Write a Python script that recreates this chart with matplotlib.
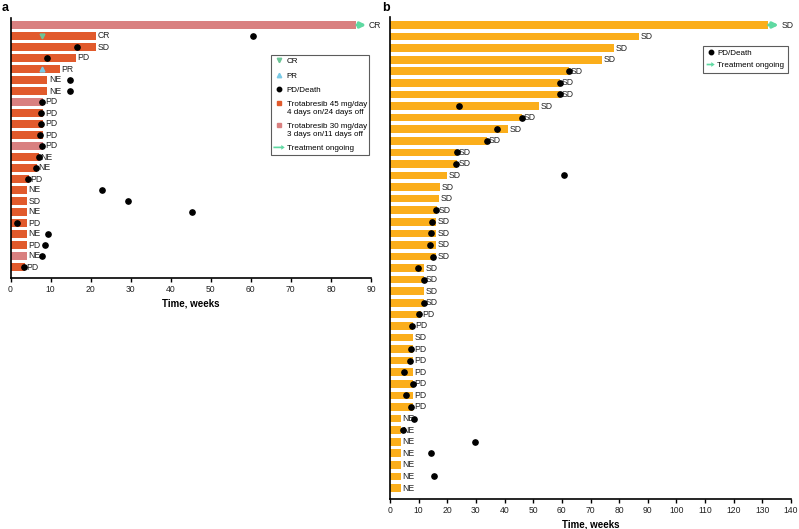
import numpy as np
import matplotlib
matplotlib.use("Agg")
import matplotlib.pyplot as plt
import matplotlib.patches as mpatches
from matplotlib.lines import Line2D
from matplotlib.legend_handler import HandlerPatch, HandlerLine2D
from matplotlib.transforms import Affine2D

plt.rcParams['font.family'] = ['Liberation Sans', 'DejaVu Sans']

nan = np.nan

#---------------------------- panel a data ----------------------------
a_weeks = [86.2, 21.4, 21.4, 16.3, 12.3, 9.2, 9.2, 8.2, 8.2, 8.2, 8.2, 8.2,
           7.1, 6.5, 4.6, 4.1, 4.1, 4.1, 4.1, 4.1, 4.1, 4.1, 3.5]
a_dose = [30, 45, 45, 45, 45, 45, 45, 30, 45, 45, 45, 30,
          45, 45, 45, 45, 45, 45, 45, 45, 45, 30, 45]
a_resp = ['CR', 'CR', 'SD', 'PD', 'PR', 'NE', 'NE', 'PD', 'PD', 'PD', 'PD', 'PD',
          'NE', 'NE', 'PD', 'NE', 'SD', 'NE', 'PD', 'NE', 'PD', 'NE', 'PD']
a_death = [nan, 60.5, 16.5, 9.0, nan, 14.8, 14.8, 7.8, 7.5, 7.5, 7.4, 7.8,
           7.0, 6.3, 4.4, 22.8, 29.4, 45.2, 1.7, 9.3, 8.6, 7.8, 3.3]
a_cr_time = [nan, 7.9] + [nan] * 21
a_pr_time = [nan] * 4 + [7.8] + [nan] * 18
a_ongoing = [True] + [False] * 22

#---------------------------- panel b data ----------------------------
b_weeks = [131.9, 87.0, 78.3, 73.9, 62.5, 59.3, 59.3, 52.0, 46.0, 41.1, 34.0,
           23.5, 23.4, 19.8, 17.5, 17.1, 16.3, 16.2, 16.0, 16.0, 16.0, 12.0,
           12.0, 12.0, 12.0, 10.7, 8.1, 7.9, 7.9, 7.9, 7.9, 7.9, 7.9, 7.9,
           3.85, 3.85, 3.85, 3.85, 3.85, 3.85, 3.85]
b_resp = ['SD'] * 25 + ['PD', 'PD', 'SD'] + ['PD'] * 6 + ['NE'] * 7
b_death = [nan, nan, nan, nan, 62.5, 59.3, 59.3, 24.1, 46.0, 37.2, 33.9, 23.4,
           23.2, 60.8, nan, nan, 16.1, 14.5, 14.2, 14.0, 14.9, 9.9, 11.8, nan,
           11.8, 10.0, 7.8, nan, 7.2, 7.0, 5.0, 7.9, 5.5, 7.3, 8.3, 4.5, 29.8,
           14.2, nan, 15.5, nan]
b_ongoing = [True] + [False] * 40

#---------------------------- colours ----------------------------
c45 = '#E15A2C'
c30 = '#D98080'
c_b = '#FBAE1B'
c_arrow = '#5FD9A2'
c_cr = '#6CC496'
c_pr = '#79C9E6'
txt = '#222222'


class ArrowHandler(HandlerPatch):
    def create_artists(self, legend, orig_handle, xdescent, ydescent, width, height, fontsize, trans):
        arr = mpatches.FancyArrow(-xdescent, height / 2 - ydescent, width, 0, width=height * 0.3,
                                  head_width=height * 0.85, head_length=height * 0.6,
                                  length_includes_head=True, color=orig_handle.get_facecolor(), lw=0)
        arr.set_transform(trans)
        return [arr]


# puts the marker next to the first line of a two line label
class TopHandler(HandlerLine2D):
    def create_artists(self, legend, orig_handle, xdescent, ydescent, width, height, fontsize, trans):
        t = Affine2D().translate(0, fontsize * 0.6) + trans
        return super().create_artists(legend, orig_handle, xdescent, ydescent, width, height, fontsize, t)


def style_axis(ax, xmax):
    for side in ['top', 'right']:
        ax.spines[side].set_visible(False)
    for side in ['left', 'bottom']:
        ax.spines[side].set_linewidth(1.2)
    ax.set_yticks([])
    ax.set_xlim(0, xmax)
    ax.set_xticks(np.arange(0, xmax + 1, 10))
    ax.tick_params(axis='x', labelsize=6.2, length=3, width=1, colors='black', labelcolor=txt, pad=2)
    ax.set_xlabel('Time, weeks', fontsize=7, fontweight='bold', labelpad=3)


def draw_rows(ax, weeks, colors, resp, death, ongoing, arrow_len):
    y = np.arange(len(weeks))
    ax.barh(y, weeks, height=0.66, color=colors, zorder=2)
    ax.plot(death, y, 'o', color='black', ms=3.8, zorder=4)
    for i in range(len(weeks)):
        if ongoing[i]:
            ax.annotate('', xy=(weeks[i] + arrow_len, y[i]), xytext=(weeks[i] + 0.3, y[i]),
                        arrowprops=dict(arrowstyle='-|>', color=c_arrow, lw=2.2, mutation_scale=8,
                                        shrinkA=0, shrinkB=0), zorder=3)
            ax.annotate(resp[i], xy=(weeks[i] + arrow_len, y[i]), xytext=(2, 0),
                        textcoords='offset points', fontsize=6.2, color=txt, va='center', ha='left')
        else:
            ax.annotate(resp[i], xy=(weeks[i], y[i]), xytext=(1.2, 0),
                        textcoords='offset points', fontsize=6.2, color=txt, va='center', ha='left',
                        zorder=3)


fig = plt.figure(figsize=(7.99, 5.29), dpi=100)
W, H = 799.0, 529.0

#---------------------------- panel a ----------------------------
ax1 = fig.add_axes([10.5 / W, (H - 278) / H, 360.5 / W, (278 - 18) / H])
a_colors = [c45 if d == 45 else c30 for d in a_dose]
draw_rows(ax1, a_weeks, a_colors, a_resp, a_death, a_ongoing, 2.6)
ax1.plot(a_cr_time, np.arange(len(a_weeks)), 'v', color=c_cr, ms=3.5, zorder=4)
ax1.plot(a_pr_time, np.arange(len(a_weeks)), '^', color=c_pr, ms=3.5, zorder=4)
ax1.set_ylim(len(a_weeks) - 1 + 11 / 11.0, -7 / 11.0)
style_axis(ax1, 90)

h45 = Line2D([], [], marker='s', ls='none', color=c45, ms=3.5)
h30 = Line2D([], [], marker='s', ls='none', color=c30, ms=3.5)
handles_a = [
    Line2D([], [], marker='v', ls='none', color=c_cr, ms=3.2),
    Line2D([], [], marker='^', ls='none', color=c_pr, ms=3.2),
    Line2D([], [], marker='o', ls='none', color='black', ms=3.2),
    h45,
    h30,
    mpatches.Patch(color=c_arrow),
]
labels_a = ['CR', 'PR', 'PD/Death', 'Trotabresib 45 mg/day\n4 days on/24 days off',
            'Trotabresib 30 mg/day\n3 days on/11 days off', 'Treatment ongoing']
leg_a = ax1.legend(handles_a, labels_a, loc='upper left', bbox_to_anchor=(271 / W, 1 - 55 / H),
                   bbox_transform=fig.transFigure, fontsize=5.8, frameon=True, fancybox=False,
                   edgecolor='#333333', handlelength=1.4, handletextpad=0.25, borderpad=0.3,
                   labelspacing=0.85, borderaxespad=0,
                   handler_map={mpatches.Patch: ArrowHandler(), h45: TopHandler(), h30: TopHandler()})
leg_a.get_frame().set_linewidth(0.8)

#---------------------------- panel b ----------------------------
ax2 = fig.add_axes([390 / W, (H - 499) / H, 401 / W, (499 - 17) / H])
draw_rows(ax2, b_weeks, [c_b] * len(b_weeks), b_resp, b_death, b_ongoing, 3.8)
ax2.set_ylim(len(b_weeks) - 1 + 11 / 11.575, -8 / 11.575)
style_axis(ax2, 140)

handles_b = [Line2D([], [], marker='o', ls='none', color='black', ms=3.2),
             mpatches.Patch(color=c_arrow)]
leg_b = ax2.legend(handles_b, ['PD/Death', 'Treatment ongoing'], loc='upper left',
                   bbox_to_anchor=(703 / W, 1 - 46 / H), bbox_transform=fig.transFigure,
                   fontsize=5.8, frameon=True, fancybox=False, edgecolor='#333333',
                   handlelength=1.0, handletextpad=0.3, borderpad=0.45, labelspacing=0.55,
                   borderaxespad=0, handler_map={mpatches.Patch: ArrowHandler()})
leg_b.get_frame().set_linewidth(0.8)

fig.text(2 / W, 1 - 8 / H, 'a', fontsize=9, fontweight='bold', va='center', ha='left')
fig.text(382 / W, 1 - 8 / H, 'b', fontsize=9, fontweight='bold', va='center', ha='left')

fig.savefig('out.png', dpi=100)
